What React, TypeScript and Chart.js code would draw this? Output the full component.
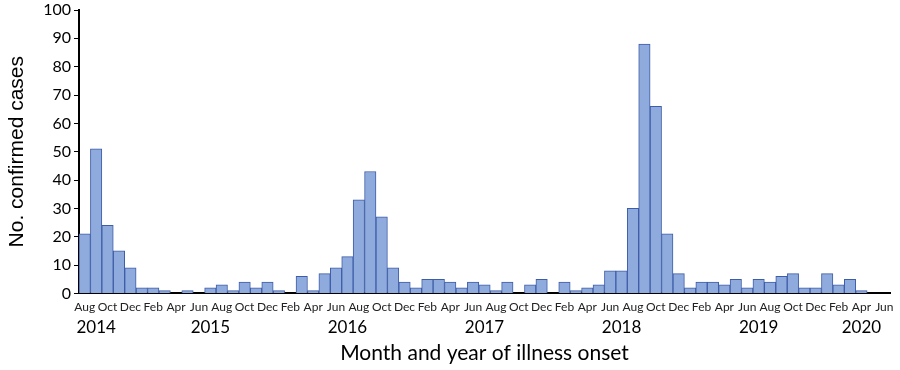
import React, { useEffect, useRef } from 'react';
import { Chart, registerables } from 'chart.js';

Chart.register(...registerables);

const categories = [
  'Aug 2014', 'Sep 2014', 'Oct 2014', 'Nov 2014', 'Dec 2014',
  'Jan 2015', 'Feb 2015', 'Mar 2015', 'Apr 2015', 'May 2015', 'Jun 2015', 'Jul 2015', 'Aug 2015', 'Sep 2015', 'Oct 2015', 'Nov 2015', 'Dec 2015',
  'Jan 2016', 'Feb 2016', 'Mar 2016', 'Apr 2016', 'May 2016', 'Jun 2016', 'Jul 2016', 'Aug 2016', 'Sep 2016', 'Oct 2016', 'Nov 2016', 'Dec 2016',
  'Jan 2017', 'Feb 2017', 'Mar 2017', 'Apr 2017', 'May 2017', 'Jun 2017', 'Jul 2017', 'Aug 2017', 'Sep 2017', 'Oct 2017', 'Nov 2017', 'Dec 2017',
  'Jan 2018', 'Feb 2018', 'Mar 2018', 'Apr 2018', 'May 2018', 'Jun 2018', 'Jul 2018', 'Aug 2018', 'Sep 2018', 'Oct 2018', 'Nov 2018', 'Dec 2018',
  'Jan 2019', 'Feb 2019', 'Mar 2019', 'Apr 2019', 'May 2019', 'Jun 2019', 'Jul 2019', 'Aug 2019', 'Sep 2019', 'Oct 2019', 'Nov 2019', 'Dec 2019',
  'Jan 2020', 'Feb 2020', 'Mar 2020', 'Apr 2020', 'May 2020', 'Jun 2020',
];

const cases = [
  21, 51, 24, 15, 9,
  2, 2, 1, 0, 1, 0, 2, 3, 1, 4, 2, 4,
  1, 0, 6, 1, 7, 9, 13, 33, 43, 27, 9, 4,
  2, 5, 5, 4, 2, 4, 3, 1, 4, 0, 3, 5,
  0, 4, 1, 2, 3, 8, 8, 30, 88, 66, 21, 7,
  2, 4, 4, 3, 5, 2, 5, 4, 6, 7, 2, 2,
  7, 3, 5, 1, 0, 0,
];

// Year captions and the month each one is centred under
const yearLabels = ['2014', '2015', '2016', '2017', '2018', '2019', '2020'];
const yearAnchors = ['Sep 2014', 'Jul 2015', 'Jul 2016', 'Jul 2017', 'Jul 2018', 'Jul 2019', 'Apr 2020'];

const yTicks = [0, 10, 20, 30, 40, 50, 60, 70, 80, 90, 100];

export default function App() {
  const canvasRef = useRef<HTMLCanvasElement | null>(null);

  useEffect(() => {
    document.body.style.margin = '0';
    const canvas = canvasRef.current;
    if (!canvas) return;

    const yearRow = categories.map((c) => {
      const k = yearAnchors.indexOf(c);
      return k >= 0 ? yearLabels[k] : '';
    });

    const xFont = "Lato, 'Open Sans', sans-serif";
    const yFont = "'Liberation Sans', Arial, sans-serif";

    const chart = new Chart(canvas, {
      type: 'bar',
      data: {
        labels: categories,
        datasets: [
          {
            label: 'Confirmed cases',
            data: cases,
            backgroundColor: '#8FAADC',
            borderColor: '#3E5DA8',
            borderWidth: 1,
            barPercentage: 1,
            categoryPercentage: 1,
          },
        ],
      },
      options: {
        responsive: true,
        maintainAspectRatio: false,
        animation: false,
        layout: { padding: { left: 0, right: 10, top: 10, bottom: 4 } },
        plugins: {
          legend: { display: false },
          tooltip: { enabled: false },
        },
        scales: {
          x: {
            type: 'category',
            position: 'bottom',
            weight: 0,
            offset: true,
            grid: { display: false, drawTicks: false },
            border: { display: true, color: '#000', width: 2 },
            ticks: {
              autoSkip: false,
              maxRotation: 0,
              minRotation: 0,
              padding: 7,
              color: '#222',
              font: { family: xFont, size: 12 },
              callback: (_v: any, i: number) => (i % 2 === 0 ? categories[i].split(' ')[0] : ''),
            },
            afterFit: (s: any) => {
              s.height = 24;
              s.paddingLeft = 0;
              s.paddingRight = 0;
            },
          },
          x2: {
            type: 'category',
            position: 'bottom',
            weight: 1,
            labels: yearRow,
            offset: true,
            grid: { display: false, drawTicks: false },
            border: { display: false },
            ticks: {
              autoSkip: false,
              maxRotation: 0,
              minRotation: 0,
              padding: 0,
              color: '#000',
              font: { family: xFont, size: 17 },
            },
            title: {
              display: true,
              text: 'Month and year of illness onset',
              color: '#000',
              font: { family: xFont, size: 21 },
              padding: { top: 3, bottom: 0 },
            },
            afterFit: (s: any) => {
              s.paddingLeft = 0;
              s.paddingRight = 0;
            },
          },
          y: {
            min: 0,
            max: 100,
            afterBuildTicks: (s: any) => {
              s.ticks = yTicks.map((v) => ({ value: v }));
            },
            ticks: {
              color: '#000',
              padding: 3,
              font: { family: xFont, size: 16 },
            },
            grid: { drawOnChartArea: false, tickLength: 5, color: '#000', lineWidth: 1 },
            border: { display: true, color: '#000', width: 2 },
            title: {
              display: true,
              text: 'No. confirmed cases',
              color: '#000',
              font: { family: yFont, size: 21 },
              padding: { top: 5, bottom: 0 },
            },
            afterFit: (s: any) => {
              s.width = 79;
              s.paddingTop = 0;
              s.paddingBottom = 0;
            },
          },
        },
      },
    });

    return () => chart.destroy();
  }, []);

  return (
    <div style={{ width: 900, height: 370, position: 'relative' }}>
      <canvas ref={canvasRef} />
    </div>
  );
}
